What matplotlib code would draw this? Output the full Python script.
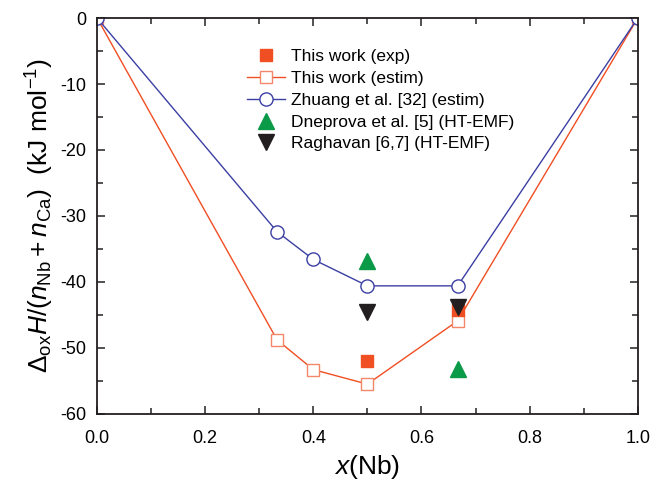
import matplotlib
matplotlib.use("Agg")
import matplotlib.pyplot as plt
from matplotlib.ticker import MultipleLocator

plt.rcParams['font.family'] = ['Liberation Sans', 'DejaVu Sans']
plt.rcParams['mathtext.fontset'] = 'custom'
plt.rcParams['mathtext.rm'] = 'Liberation Sans'
plt.rcParams['mathtext.it'] = 'Liberation Sans:italic'
plt.rcParams['axes.unicode_minus'] = False

# data
x_estim = [0.0, 0.333, 0.4, 0.5, 0.667, 1.0]
y_this_estim = [0.0, -48.8, -53.3, -55.5, -45.9, 0.0]
y_zhuang = [0.0, -32.4, -36.6, -40.6, -40.6, 0.0]
x_exp = [0.5, 0.667]
y_exp = [-52.0, -44.2]
x_dnep = [0.5, 0.667]
y_dnep = [-36.8, -53.2]
x_ragh = [0.5, 0.667]
y_ragh = [-44.6, -43.8]

orange = '#F04E23'
blue = '#3B3FA3'
green = '#0B9A47'
black = '#231F20'

fig = plt.figure(figsize=(6.65, 4.88), dpi=100)
ax = fig.add_axes([0.146, 0.152, 0.813, 0.811])

ax.plot(x_exp, y_exp, 's', color=orange, ms=8, ls='none', label='This work (exp)', zorder=3)
ax.plot(x_estim, y_this_estim, '-s', color=orange, mfc='white', mec='#F4866A', ms=8.5, lw=1,
        label='This work (estim)', zorder=2)
ax.plot(x_estim, y_zhuang, '-o', color=blue, mfc='white', mec=blue, ms=9.5, lw=1,
        label='Zhuang et al. [32] (estim)', zorder=2)
ax.plot(x_dnep, y_dnep, '^', color=green, ms=11, ls='none', label='Dneprova et al. [5] (HT-EMF)', zorder=4)
ax.plot(x_ragh, y_ragh, 'v', color=black, ms=11, ls='none', label='Raghavan [6,7] (HT-EMF)', zorder=4)

ax.set_xlim(0, 1.0)
ax.set_ylim(-60, 0)
ax.xaxis.set_major_locator(MultipleLocator(0.2))
ax.xaxis.set_minor_locator(MultipleLocator(0.1))
ax.yaxis.set_major_locator(MultipleLocator(10))
ax.yaxis.set_minor_locator(MultipleLocator(5))
ax.xaxis.set_major_formatter(plt.FuncFormatter(lambda v, p: f'{v:.1f}'))
ax.yaxis.set_major_formatter(plt.FuncFormatter(lambda v, p: f'{v:.0f}'))
ax.tick_params(which='both', direction='in', top=True, right=True, labelsize=13, width=1.2, color='#333333')
ax.tick_params(which='major', length=6)
ax.tick_params(which='minor', length=4)
ax.tick_params(axis='x', pad=12)
ax.tick_params(axis='y', pad=8)
for s in ax.spines.values():
    s.set_linewidth(1.3)
    s.set_color('#231F20')

ax.set_xlabel(r'$\mathit{x}$(Nb)', fontsize=19, labelpad=4)
ax.set_ylabel(r'$\Delta_{\rm ox}\mathit{H}/(\mathit{n}_{\rm Nb}+\mathit{n}_{\rm Ca})$  (kJ mol$^{-1}$)', fontsize=19, labelpad=3)

ax.legend(loc='upper left', bbox_to_anchor=(0.255, 0.952), frameon=False, fontsize=12.5,
          handlelength=2.2, handletextpad=0.3, labelspacing=0.38, borderpad=0.2)

fig.savefig('out.png', dpi=100)
